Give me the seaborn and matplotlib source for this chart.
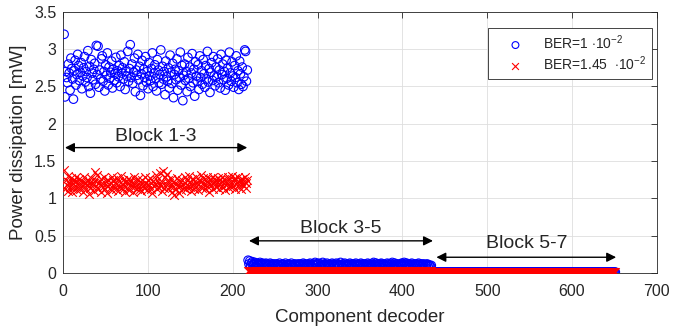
import numpy as np
import pandas as pd
import matplotlib
matplotlib.use("Agg")
import matplotlib.pyplot as plt
import seaborn as sns

# ---------------- data ----------------
blue_block13 = [
    3.20, 2.36, 2.70, 2.62, 2.55, 2.80, 2.68, 2.45, 2.88, 2.74, 2.60, 2.33, 2.71, 2.85, 2.52, 2.66, 2.93, 2.78, 2.58, 2.69,
    2.82, 2.47, 2.64, 2.75, 2.90, 2.56, 2.70, 2.62, 2.98, 2.50, 2.77, 2.41, 2.86, 2.68, 2.59, 2.73, 2.81, 2.53, 3.05, 2.66,
    3.04, 2.49, 2.72, 2.60, 2.87, 2.91, 2.57, 2.70, 2.44, 2.79, 2.65, 2.95, 2.52, 2.76, 2.61, 2.69, 2.84, 2.48, 2.73, 2.58,
    2.67, 2.89, 2.55, 2.71, 2.63, 2.78, 2.50, 2.92, 2.68, 2.75, 2.60, 2.83, 2.46, 2.70, 2.64, 2.97, 2.57, 2.74, 3.06, 2.62,
    2.80, 2.54, 2.69, 2.88, 2.43, 2.72, 2.65, 2.93, 2.59, 2.77, 2.38, 2.67, 2.85, 2.51, 2.73, 2.62, 2.90, 2.56, 2.70, 2.47,
    2.82, 2.64, 2.58, 2.74, 2.95, 2.50, 2.68, 2.79, 2.61, 2.44, 2.86, 2.72, 2.55, 2.66, 2.99, 2.53, 2.77, 2.60, 2.70, 2.39,
    2.84, 2.63, 2.57, 2.75, 2.48, 2.92, 2.69, 2.54, 2.81, 2.35, 2.66, 2.73, 2.59, 2.87, 2.45, 2.71, 2.62, 2.96, 2.52, 2.78,
    2.31, 2.65, 2.80, 2.58, 2.70, 2.43, 2.89, 2.61, 2.76, 2.50, 2.68, 2.94, 2.55, 2.73, 2.37, 2.83, 2.64, 2.57, 2.79, 2.46,
    2.91, 2.62, 2.71, 2.53, 2.86, 2.67, 2.49, 2.78, 2.60, 2.97, 2.56, 2.74, 2.42, 2.69, 2.82, 2.58, 2.90, 2.64, 2.51, 2.76,
    2.63, 2.87, 2.55, 2.72, 2.48, 2.93, 2.66, 2.80, 2.59, 2.70, 2.45, 2.85, 2.61, 2.75, 2.52, 2.96, 2.68, 2.57, 2.83, 2.64,
    2.49, 2.78, 2.62, 2.91, 2.55, 2.71, 2.46, 2.84, 2.67, 2.53, 2.76, 2.50, 2.63, 2.99, 2.97, 2.57, 2.72,
]
red_block13 = [
    1.38, 1.12, 1.25, 1.18, 1.30, 1.10, 1.22, 1.15, 1.27, 1.08, 1.20, 1.14, 1.24, 1.17, 1.29, 1.11, 1.21, 1.16, 1.26, 1.13,
    1.19, 1.23, 1.09, 1.28, 1.15, 1.21, 1.12, 1.25, 1.18, 1.06, 1.22, 1.14, 1.27, 1.17, 1.20, 1.10, 1.24, 1.35, 1.16, 1.31,
    1.13, 1.22, 1.18, 1.26, 1.09, 1.20, 1.15, 1.29, 1.12, 1.23, 1.17, 1.07, 1.25, 1.19, 1.14, 1.21, 1.28, 1.11, 1.24, 1.16,
    1.20, 1.13, 1.27, 1.18, 1.10, 1.23, 1.15, 1.30, 1.19, 1.12, 1.25, 1.17, 1.08, 1.22, 1.14, 1.26, 1.20, 1.11, 1.24, 1.16,
    1.21, 1.09, 1.28, 1.15, 1.19, 1.23, 1.12, 1.26, 1.17, 1.13, 1.22, 1.10, 1.25, 1.18, 1.14, 1.29, 1.16, 1.20, 1.11, 1.24,
    1.18, 1.27, 1.13, 1.21, 1.07, 1.23, 1.16, 1.19, 1.31, 1.12, 1.25, 1.15, 1.20, 1.34, 1.17, 1.10, 1.22, 1.36, 1.14, 1.28,
    1.19, 1.33, 1.24, 1.12, 1.21, 1.17, 1.26, 1.09, 1.22, 1.15, 1.05, 1.20, 1.13, 1.27, 1.18, 1.07, 1.23, 1.16, 1.11, 1.25,
    1.19, 1.14, 1.28, 1.21, 1.12, 1.24, 1.17, 1.30, 1.15, 1.22, 1.10, 1.26, 1.18, 1.13, 1.23, 1.29, 1.16, 1.20, 1.11, 1.25,
    1.17, 1.31, 1.22, 1.14, 1.27, 1.19, 1.12, 1.24, 1.16, 1.29, 1.21, 1.09, 1.26, 1.18, 1.23, 1.28, 1.13, 1.20, 1.25, 1.15,
    1.22, 1.18, 1.27, 1.12, 1.24, 1.20, 1.29, 1.15, 1.21, 1.26, 1.11, 1.23, 1.19, 1.28, 1.14, 1.25, 1.17, 1.22, 1.30, 1.16,
    1.24, 1.13, 1.27, 1.19, 1.22, 1.28, 1.15, 1.25, 1.20, 1.12, 1.26, 1.18, 1.23, 1.29, 1.14, 1.21, 1.24,
]
blue_block35 = [
    0.17, 0.12, 0.16, 0.10, 0.13, 0.15, 0.11, 0.12, 0.14, 0.09, 0.13, 0.11, 0.12, 0.10, 0.14, 0.12, 0.11, 0.13, 0.10, 0.12,
    0.11, 0.13, 0.09, 0.12, 0.10, 0.11, 0.13, 0.09, 0.12, 0.10, 0.11, 0.12, 0.09, 0.10, 0.12, 0.11, 0.10, 0.13, 0.09, 0.11,
    0.10, 0.12, 0.11, 0.09, 0.13, 0.10, 0.11, 0.09, 0.12, 0.10, 0.11, 0.13, 0.10, 0.09, 0.11, 0.12, 0.10, 0.11, 0.09, 0.12,
    0.11, 0.10, 0.12, 0.09, 0.11, 0.13, 0.10, 0.12, 0.11, 0.09, 0.10, 0.12, 0.11, 0.13, 0.10, 0.09, 0.12, 0.11, 0.10, 0.14,
    0.12, 0.10, 0.11, 0.13, 0.09, 0.12, 0.10, 0.11, 0.14, 0.10, 0.12, 0.11, 0.09, 0.13, 0.11, 0.10, 0.12, 0.09, 0.11, 0.13,
    0.10, 0.12, 0.11, 0.09, 0.13, 0.10, 0.12, 0.11, 0.10, 0.14, 0.11, 0.09, 0.12, 0.10, 0.13, 0.11, 0.10, 0.12, 0.09, 0.11,
    0.13, 0.10, 0.12, 0.11, 0.09, 0.12, 0.10, 0.13, 0.11, 0.10, 0.12, 0.09, 0.11, 0.13, 0.10, 0.12, 0.11, 0.09, 0.12, 0.10,
    0.11, 0.13, 0.10, 0.12, 0.09, 0.11, 0.10, 0.12, 0.14, 0.11, 0.10, 0.13, 0.09, 0.12, 0.11, 0.10, 0.12, 0.13, 0.10, 0.11,
    0.12, 0.09, 0.11, 0.10, 0.13, 0.12, 0.10, 0.11, 0.09, 0.12, 0.14, 0.10, 0.11, 0.13, 0.10, 0.12, 0.09, 0.11, 0.10, 0.12,
    0.11, 0.13, 0.10, 0.12, 0.14, 0.11, 0.10, 0.13, 0.12, 0.09, 0.11, 0.12, 0.10, 0.13, 0.11, 0.09, 0.12, 0.10, 0.11, 0.12,
    0.10, 0.13, 0.11, 0.09, 0.12, 0.10, 0.11, 0.12, 0.09, 0.11, 0.10, 0.12, 0.09, 0.11, 0.10, 0.09, 0.10,
]
red_block35 = [
    0.030, 0.022, 0.028, 0.025, 0.020, 0.032, 0.024, 0.027, 0.021, 0.029, 0.026, 0.023, 0.031, 0.025, 0.022, 0.028, 0.024, 0.030, 0.021, 0.027,
    0.025, 0.029, 0.022, 0.026, 0.031, 0.023, 0.028, 0.020, 0.027, 0.024, 0.030, 0.022, 0.026, 0.029, 0.023, 0.025, 0.031, 0.021, 0.028, 0.024,
    0.027, 0.022, 0.030, 0.025, 0.023, 0.029, 0.021, 0.026, 0.032, 0.024, 0.028, 0.022, 0.025, 0.030, 0.023, 0.027, 0.021, 0.029, 0.024, 0.026,
    0.031, 0.023, 0.028, 0.025, 0.020, 0.027, 0.024, 0.030, 0.022, 0.026, 0.029, 0.023, 0.025, 0.031, 0.021, 0.028, 0.024, 0.027, 0.022, 0.030,
    0.025, 0.023, 0.029, 0.021, 0.026, 0.028, 0.024, 0.031, 0.022, 0.027, 0.025, 0.030, 0.023, 0.026, 0.029, 0.021, 0.028, 0.024, 0.027, 0.022,
    0.030, 0.025, 0.023, 0.028, 0.026, 0.021, 0.029, 0.024, 0.027, 0.031, 0.022, 0.026, 0.028, 0.023, 0.025, 0.030, 0.021, 0.027, 0.024, 0.029,
    0.022, 0.026, 0.031, 0.023, 0.028, 0.025, 0.020, 0.027, 0.024, 0.030, 0.022, 0.029, 0.025, 0.023, 0.028, 0.026, 0.021, 0.030, 0.024, 0.027,
    0.025, 0.022, 0.029, 0.026, 0.031, 0.023, 0.028, 0.024, 0.021, 0.027, 0.030, 0.025, 0.022, 0.028, 0.026, 0.029, 0.023, 0.025, 0.031, 0.024,
    0.027, 0.021, 0.029, 0.024, 0.026, 0.030, 0.022, 0.028, 0.025, 0.023, 0.027, 0.031, 0.024, 0.026, 0.022, 0.029, 0.025, 0.028, 0.021, 0.027,
    0.030, 0.024, 0.026, 0.022, 0.029, 0.025, 0.027, 0.023, 0.031, 0.024, 0.028, 0.022, 0.026, 0.030, 0.023, 0.027, 0.025, 0.029, 0.021, 0.026,
    0.028, 0.024, 0.030, 0.022, 0.027, 0.025, 0.023, 0.029, 0.026, 0.021, 0.028, 0.024, 0.027, 0.030, 0.022, 0.025, 0.026,
]
blue_block57 = [
    0.012, 0.011, 0.013, 0.010, 0.012, 0.011, 0.013, 0.012, 0.010, 0.011, 0.012, 0.013, 0.011, 0.010, 0.012, 0.011, 0.013, 0.012, 0.011, 0.010,
    0.012, 0.013, 0.011, 0.012, 0.010, 0.011, 0.013, 0.012, 0.011, 0.012, 0.010, 0.013, 0.011, 0.012, 0.011, 0.010, 0.012, 0.013, 0.011, 0.012,
    0.011, 0.010, 0.012, 0.013, 0.011, 0.012, 0.010, 0.011, 0.013, 0.012, 0.011, 0.010, 0.012, 0.011, 0.013, 0.012, 0.010, 0.011, 0.012, 0.013,
    0.011, 0.012, 0.010, 0.011, 0.013, 0.012, 0.011, 0.012, 0.010, 0.013, 0.011, 0.012, 0.011, 0.010, 0.012, 0.013, 0.011, 0.012, 0.010, 0.011,
    0.013, 0.012, 0.011, 0.010, 0.012, 0.011, 0.013, 0.012, 0.011, 0.010, 0.012, 0.013, 0.011, 0.012, 0.010, 0.011, 0.012, 0.013, 0.011, 0.012,
    0.010, 0.011, 0.013, 0.012, 0.011, 0.012, 0.010, 0.013, 0.011, 0.012, 0.011, 0.010, 0.012, 0.013, 0.011, 0.012, 0.010, 0.011, 0.013, 0.012,
    0.011, 0.010, 0.012, 0.011, 0.013, 0.012, 0.010, 0.011, 0.012, 0.013, 0.011, 0.012, 0.010, 0.011, 0.013, 0.012, 0.011, 0.010, 0.012, 0.011,
    0.013, 0.012, 0.011, 0.010, 0.012, 0.013, 0.011, 0.012, 0.010, 0.011, 0.012, 0.013, 0.011, 0.012, 0.010, 0.011, 0.013, 0.012, 0.011, 0.012,
    0.010, 0.013, 0.011, 0.012, 0.011, 0.010, 0.012, 0.013, 0.011, 0.012, 0.010, 0.011, 0.013, 0.012, 0.011, 0.010, 0.012, 0.011, 0.013, 0.012,
    0.011, 0.010, 0.012, 0.013, 0.011, 0.012, 0.010, 0.011, 0.012, 0.013, 0.011, 0.012, 0.010, 0.011, 0.013, 0.012, 0.011, 0.010, 0.012, 0.011,
    0.013, 0.012, 0.011, 0.010, 0.012, 0.011, 0.013, 0.012, 0.010, 0.011, 0.012, 0.013, 0.011, 0.012, 0.010, 0.011, 0.012,
]
red_block57 = [
    0.010, 0.012, 0.009, 0.011, 0.013, 0.010, 0.012, 0.011, 0.009, 0.013, 0.010, 0.012, 0.011, 0.010, 0.012, 0.009, 0.011, 0.013, 0.010, 0.012,
    0.011, 0.009, 0.012, 0.010, 0.013, 0.011, 0.010, 0.012, 0.009, 0.011, 0.012, 0.010, 0.013, 0.011, 0.009, 0.012, 0.010, 0.011, 0.013, 0.010,
    0.012, 0.011, 0.009, 0.012, 0.010, 0.013, 0.011, 0.010, 0.012, 0.009, 0.011, 0.013, 0.010, 0.012, 0.011, 0.009, 0.012, 0.010, 0.011, 0.013,
    0.010, 0.012, 0.011, 0.009, 0.013, 0.010, 0.012, 0.011, 0.010, 0.012, 0.009, 0.011, 0.013, 0.010, 0.012, 0.011, 0.009, 0.012, 0.010, 0.013,
    0.011, 0.010, 0.012, 0.009, 0.011, 0.012, 0.010, 0.013, 0.011, 0.009, 0.012, 0.010, 0.011, 0.013, 0.010, 0.012, 0.011, 0.009, 0.012, 0.010,
    0.013, 0.011, 0.010, 0.012, 0.009, 0.011, 0.013, 0.010, 0.012, 0.011, 0.009, 0.012, 0.010, 0.011, 0.013, 0.010, 0.012, 0.011, 0.009, 0.013,
    0.010, 0.012, 0.011, 0.010, 0.012, 0.009, 0.011, 0.013, 0.010, 0.012, 0.011, 0.009, 0.012, 0.010, 0.013, 0.011, 0.010, 0.012, 0.009, 0.011,
    0.012, 0.010, 0.013, 0.011, 0.009, 0.012, 0.010, 0.011, 0.013, 0.010, 0.012, 0.011, 0.009, 0.012, 0.010, 0.013, 0.011, 0.010, 0.012, 0.009,
    0.011, 0.013, 0.010, 0.012, 0.011, 0.009, 0.012, 0.010, 0.011, 0.013, 0.010, 0.012, 0.011, 0.009, 0.013, 0.010, 0.012, 0.011, 0.010, 0.012,
    0.009, 0.011, 0.013, 0.010, 0.012, 0.011, 0.009, 0.012, 0.010, 0.013, 0.011, 0.010, 0.012, 0.009, 0.011, 0.012, 0.010, 0.013, 0.011, 0.009,
    0.012, 0.010, 0.011, 0.013, 0.010, 0.012, 0.011, 0.009, 0.012, 0.010, 0.013, 0.011, 0.010, 0.012, 0.009, 0.011, 0.012,
]

series_labels = [r"BER=1 $\cdot$10$^{-2}$", r"BER=1.45  $\cdot$10$^{-2}$"]
block_labels = ["Block 1-3", "Block 3-5", "Block 5-7"]
block_ranges = [(2, 217), (219, 436), (440, 652)]   # arrow extents (component decoder)
block_arrow_y = [1.68, 0.43, 0.21]
block_text_y = [1.83, 0.60, 0.39]
x_ticks = [0, 100, 200, 300, 400, 500, 600, 700]
y_ticks = [0, 0.5, 1, 1.5, 2, 2.5, 3, 3.5]
y_tick_labels = ["0", "0.5", "1", "1.5", "2", "2.5", "3", "3.5"]

blue_power = blue_block13 + blue_block35 + blue_block57
red_power = red_block13 + red_block35 + red_block57
decoder = np.arange(1, len(blue_power) + 1)

df_blue = pd.DataFrame({"decoder": decoder, "power": blue_power})
df_red = pd.DataFrame({"decoder": decoder, "power": red_power})

# ---------------- styling ----------------
sns.set_style("whitegrid")
plt.rcParams["font.family"] = ["Liberation Sans", "DejaVu Sans"]
plt.rcParams["mathtext.fontset"] = "custom"
plt.rcParams["mathtext.rm"] = "Liberation Sans"
plt.rcParams["mathtext.it"] = "Liberation Sans:italic"

dark = "#262626"
fig, ax = plt.subplots(figsize=(6.73, 3.3), dpi=100)
fig.subplots_adjust(left=0.094, right=0.976, bottom=0.173, top=0.964)

sns.scatterplot(data=df_blue, x="decoder", y="power", marker="o",
                facecolors="none", edgecolor="blue", s=38, linewidth=0.8,
                ax=ax, label=series_labels[0], zorder=3)
sns.scatterplot(data=df_red, x="decoder", y="power", marker="x",
                color="red", s=38, linewidth=0.8,
                ax=ax, label=series_labels[1], zorder=3)

ax.set_xlim(0, 700)
ax.set_ylim(0, 3.5)
ax.set_xticks(x_ticks)
ax.set_yticks(y_ticks)
ax.set_yticklabels(y_tick_labels)
ax.set_xlabel("Component decoder", fontsize=13.5, color=dark, labelpad=7)
ax.set_ylabel("Power dissipation [mW]", fontsize=13.5, color=dark, labelpad=5)
ax.tick_params(direction="in", length=4, width=0.6, top=True, right=True,
               colors=dark, labelsize=11.5)
ax.tick_params(axis="x", pad=8)
ax.tick_params(axis="y", pad=5)
ax.grid(True, color="#dedede", linewidth=0.6)
for sp in ax.spines.values():
    sp.set_visible(True)
    sp.set_color(dark)
    sp.set_linewidth(0.6)

for (x0, x1), ya, yt, lab in zip(block_ranges, block_arrow_y, block_text_y, block_labels):
    ax.annotate("", xy=(x0, ya), xytext=(x1, ya),
                arrowprops=dict(arrowstyle="<|-|>", color="black", lw=1.0,
                                mutation_scale=14, shrinkA=0, shrinkB=0), zorder=5)
    ax.text((x0 + x1) / 2, yt, lab, ha="center", va="center", fontsize=14,
            color=dark, zorder=5)

leg = ax.legend(loc="upper right", bbox_to_anchor=(0.992, 0.94), frameon=True,
                fancybox=False, edgecolor=dark, fontsize=10, framealpha=1,
                handlelength=3.2, handletextpad=0.4, borderpad=0.4,
                labelspacing=0.2, borderaxespad=0, markerscale=0.8)
leg.get_frame().set_linewidth(0.6)

fig.savefig("out.png", dpi=100)
